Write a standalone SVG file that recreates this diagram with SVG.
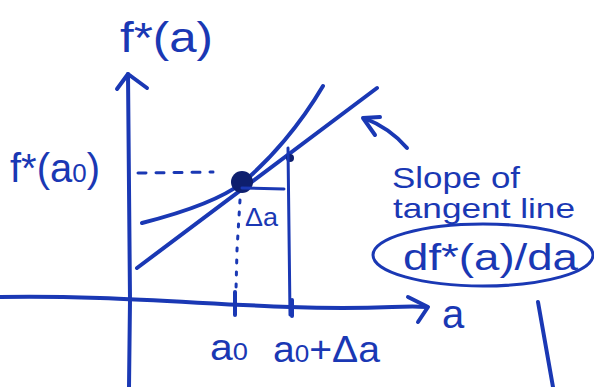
<svg xmlns="http://www.w3.org/2000/svg" width="594" height="387" viewBox="0 0 594 387">
<style>
.ln{fill:none;stroke:#1a38b4;stroke-width:4;stroke-linecap:round;stroke-linejoin:round}
.th{stroke-width:3}
.tx{fill:#1a38b4;font-family:"Liberation Sans",Arial,sans-serif}
</style>
<rect width="594" height="387" fill="#fff"/>
<g id="axes">
<path class="ln" d="M129,387 L130,300 L128,74"/>
<path class="ln" d="M117,89 L128,74 L147,88"/>
<path class="ln" d="M0,297 C100,295 200,304 290,307 S400,305 426,307"/>
<path class="ln" d="M408,297 L428,307 L418,322"/>
<path class="ln" d="M235,292 L235,315 M292,300 L292,316"/>
</g>
<g id="labels">
<text class="tx" x="120" y="52" font-size="42" textLength="93" lengthAdjust="spacingAndGlyphs">f*(a)</text>
<text class="tx" x="10" y="182" font-size="40" textLength="90" lengthAdjust="spacingAndGlyphs">f*(a<tspan font-size="26">0</tspan>)</text>
<text class="tx" x="442" y="328" font-size="40">a</text>
<text class="tx" x="210" y="360" font-size="36" textLength="38" lengthAdjust="spacingAndGlyphs">a<tspan font-size="24">0</tspan></text>
<text class="tx" x="273" y="362" font-size="36" textLength="107" lengthAdjust="spacingAndGlyphs">a<tspan font-size="24">0</tspan>+Δa</text>
</g>
<g id="curve">
<path class="ln" d="M142,223 C185,212 220,200 242,183 C270,160 300,125 323,86"/>
</g>
<g id="tangent">
<path class="ln" d="M137,268 L377,88"/>
</g>
<g id="point">
<circle cx="242" cy="182" r="11" fill="#0e1f6e"/>
<circle cx="290" cy="158" r="4" fill="#0e1f6e"/>
</g>
<g id="guides">
<path class="ln th" d="M138,173 L213,172" stroke-dasharray="8 10"/>
<path class="ln th" d="M242,188 L284,189"/>
<path class="ln th" d="M288,148 L290,315"/>
<path class="ln th" d="M240,200 L237,250 L236,290" stroke-dasharray="3 9"/>
<text class="tx" x="245" y="226" font-size="25" textLength="33" lengthAdjust="spacingAndGlyphs">Δa</text>
</g>
<g id="annotation">
<path class="ln" d="M407,148 Q390,128 364,118"/>
<path class="ln" d="M380,117 L363,118 L375,135"/>
<text class="tx" x="392" y="188" font-size="30" textLength="128" lengthAdjust="spacingAndGlyphs">Slope of</text>
<text class="tx" x="393" y="218" font-size="28" textLength="182" lengthAdjust="spacingAndGlyphs">tangent line</text>
<ellipse class="ln th" cx="483" cy="255" rx="110" ry="31"/>
<text class="tx" x="403" y="270" font-size="36" textLength="175" lengthAdjust="spacingAndGlyphs">df*(a)/da</text>
</g>
<g id="stray">
<path class="ln" d="M538,302 L553,387"/>
</g>
</svg>
